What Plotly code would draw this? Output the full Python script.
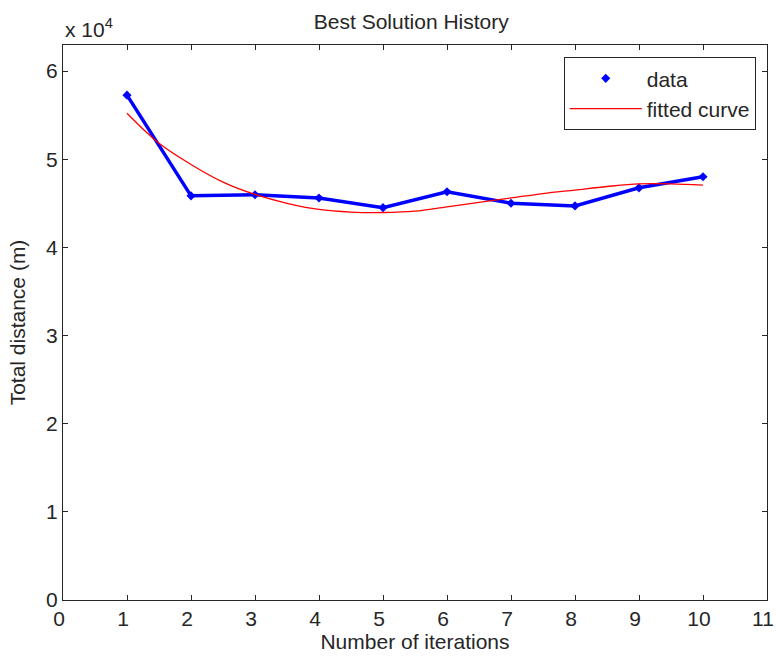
import plotly.graph_objects as go

iterations = [1, 2, 3, 4, 5, 6, 7, 8, 9, 10]
total_distance = [57260, 45840, 45960, 45600, 44500, 46300, 45000, 44700, 46750, 48000]

fit_x = [1, 1.5, 2, 2.5, 3, 3.5, 4, 4.5, 5, 5.5, 6, 6.5, 7, 7.5, 8, 8.5, 9, 9.5, 10]
fit_y = [55200, 51800, 49400, 47400, 46000, 45000, 44300, 44000, 43950, 44100,
         44600, 45100, 45600, 46100, 46500, 46900, 47200, 47200, 47050]

x_ticks = list(range(0, 12))
y_ticks = [0, 10000, 20000, 30000, 40000, 50000, 60000]
y_tick_text = ["0", "1", "2", "3", "4", "5", "6"]

FONT = "Liberation Sans, Arial, sans-serif"
AX = "#262626"
FS = 21

fig = go.Figure()
fig.add_trace(go.Scatter(x=iterations, y=total_distance, mode="lines",
                         line=dict(color="#0000ff", width=3.5), showlegend=False,
                         hoverinfo="skip"))
fig.add_trace(go.Scatter(x=iterations, y=total_distance, mode="markers", name="data",
                         marker=dict(symbol="diamond", color="#0000ff", size=7)))
fig.add_trace(go.Scatter(x=fit_x, y=fit_y, mode="lines", name="fitted curve",
                         line=dict(color="#ff0000", width=1.3, shape="spline")))

axis_common = dict(showgrid=False, zeroline=False, showline=True, linecolor=AX,
                   linewidth=1, mirror="ticks", ticks="inside", ticklen=5,
                   tickcolor=AX, tickfont=dict(family=FONT, size=FS, color=AX),
                   title_font=dict(family=FONT, size=FS, color=AX), automargin=False,
                   ticklabeloverflow="allow")

fig.update_xaxes(range=[0, 11], tickvals=x_ticks, ticklabelshift=-4,
                 title_text="Number of iterations", title_standoff=2, **axis_common)
fig.update_yaxes(range=[0, 62950], tickvals=y_ticks, ticktext=y_tick_text,
                 title_text="Total distance (m)", title_standoff=14, **axis_common)

fig.update_layout(
    width=776, height=660,
    margin=dict(l=63, r=9, t=45, b=60, autoexpand=False),
    paper_bgcolor="white", plot_bgcolor="white",
    font=dict(family=FONT, size=FS, color=AX),
    title=dict(text="Best Solution History", x=0.53, xanchor="center",
               y=0.967, yanchor="middle", font=dict(family=FONT, size=FS, color=AX)),
    legend=dict(x=0.984, xanchor="right", y=0.978, yanchor="top",
                bordercolor=AX, borderwidth=1, bgcolor="white",
                font=dict(family=FONT, size=FS, color=AX), itemwidth=72,
                tracegroupgap=0),
    annotations=[dict(text="x 10<sup>4</sup>", xref="paper", yref="paper",
                      x=0, xanchor="left", y=1.0, yanchor="bottom", yshift=2,
                      showarrow=False, font=dict(family=FONT, size=FS, color=AX))],
)

fig.write_html("out.html", config={"displayModeBar": False},
               post_script="document.body.style.margin='0';document.body.style.padding='0';")
